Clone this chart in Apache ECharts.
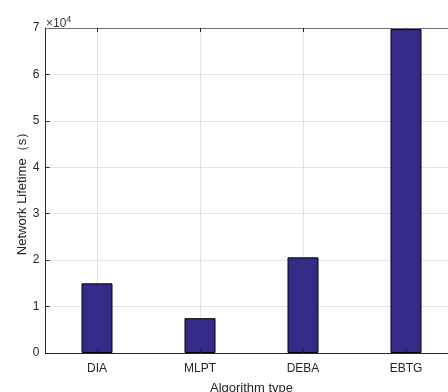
<!DOCTYPE html>
<html>
<head>
<meta charset="utf-8">
<script src="https://cdn.jsdelivr.net/npm/echarts@6/dist/echarts.min.js"></script>
<style>
  html, body { margin: 0; padding: 0; background: #fff; }
  #chart { width: 448px; height: 392px; }
</style>
</head>
<body>
<div id="chart"></div>
<script>
// Network lifetime per algorithm (values in units of 10^4 s)
const categories = ['DIA', 'MLPT', 'DEBA', 'EBTG'];
const lifetime = [1.50, 0.75, 2.06, 6.98];
const yTicks = [0, 1, 2, 3, 4, 5, 6, 7];

const FONT = '"Liberation Sans", Arial, Helvetica, sans-serif';
const AXIS = '#262626';
const GRID = '#e3e3e3';

// half-step positions: odd indices fall on category centres (used for the vertical grid)
const halfSteps = Array.from({ length: categories.length * 2 + 1 }, (_, i) => String(i));

const chart = echarts.init(document.getElementById('chart'));
chart.setOption({
  animation: false,
  backgroundColor: '#ffffff',
  // the axes box runs slightly past the right edge of the canvas
  grid: {
    left: 45.5, top: 28, width: 412, height: 325,
    containLabel: false,
    outerBoundsMode: 'none'
  },
  xAxis: [
    {
      type: 'category',
      data: categories,
      boundaryGap: true,
      position: 'bottom',
      name: 'Algorithm type',
      nameLocation: 'middle',
      nameGap: 29,
      nameMoveOverlap: false,
      nameTextStyle: { fontFamily: FONT, fontSize: 13, color: '#262626' },
      axisLine: { show: true, lineStyle: { color: AXIS, width: 1 } },
      axisTick: { show: true, inside: true, alignWithLabel: true, length: 4, lineStyle: { color: AXIS } },
      axisLabel: { fontFamily: FONT, fontSize: 12, color: '#262626', margin: 10 },
      splitLine: { show: false },
      z: 5
    },
    {
      type: 'category',
      data: categories,
      boundaryGap: true,
      position: 'top',
      axisLine: { show: true, lineStyle: { color: '#6e6e6e', width: 1 } },
      axisTick: { show: true, inside: true, alignWithLabel: true, length: 4, lineStyle: { color: AXIS } },
      axisLabel: { show: false },
      splitLine: { show: false },
      z: 5
    },
    {
      type: 'category',
      data: halfSteps,
      boundaryGap: false,
      position: 'bottom',
      show: true,
      axisLine: { show: false },
      axisTick: { show: false },
      axisLabel: { show: false },
      splitLine: { show: true, interval: (i) => i % 2 === 1, lineStyle: { color: GRID, width: 1 } }
    }
  ],
  yAxis: {
    type: 'value',
    min: 0,
    max: 7,
    interval: 1,
    name: 'Network Lifetime（s）',
    nameLocation: 'middle',
    nameGap: 17,
    nameMoveOverlap: false,
    nameRotate: 90,
    nameTextStyle: { fontFamily: FONT, fontSize: 13, color: '#262626' },
    axisLine: { show: true, lineStyle: { color: AXIS, width: 1 } },
    axisTick: { show: true, inside: true, length: 4, lineStyle: { color: AXIS } },
    axisLabel: {
      fontFamily: FONT, fontSize: 12, color: '#262626', margin: 6,
      formatter: v => (yTicks.includes(v) ? String(v) : '')
    },
    splitLine: { show: true, lineStyle: { color: GRID, width: 1 } }
  },
  graphic: [
    {
      type: 'text',
      left: 46,
      top: 15,
      style: {
        text: '{a|×10}{b|4}',
        rich: {
          a: { fontFamily: FONT, fontSize: 12, fill: '#3a3a3a', verticalAlign: 'bottom' },
          b: { fontFamily: FONT, fontSize: 9, fill: '#3a3a3a', verticalAlign: 'top', padding: [0, 0, 6, 0] }
        }
      }
    }
  ],
  series: [
    {
      type: 'bar',
      xAxisIndex: 0,
      data: lifetime,
      barWidth: 31,
      itemStyle: { color: '#352a87', borderColor: '#000000', borderWidth: 1 }
    }
  ]
});
</script>
</body>
</html>
